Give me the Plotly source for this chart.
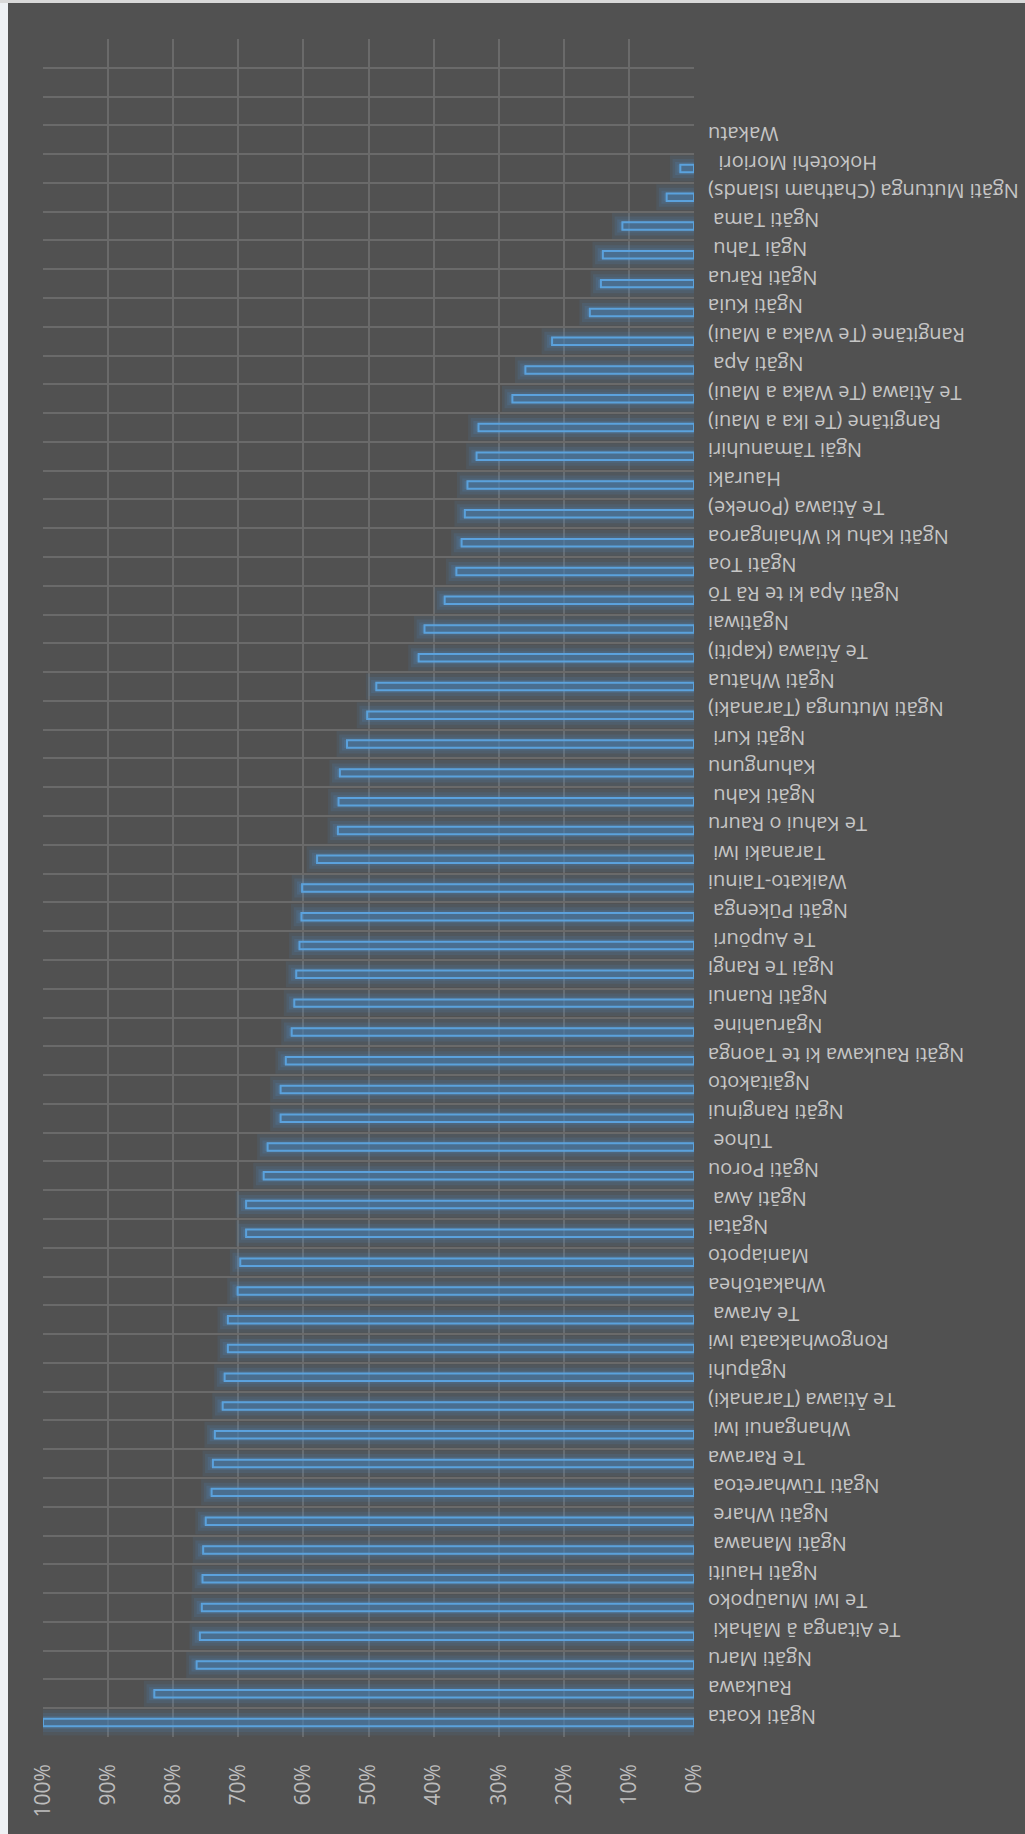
import plotly.graph_objects as go

# Iwi listed from the bottom row of the chart to the top row
tribes = [
    "Ngāti Koata", "Raukawa", "Ngāti Maru", "Te Aitanga ā Māhaki\u00a0",
    "Te Iwi Muaūpoko", "Ngāti Hauiti", "Ngāti Manawa\u00a0", "Ngāti Whare\u00a0",
    "Ngāti Tūwharetoa\u00a0", "Te Rarawa", "Whanganui Iwi\u00a0", "Te Ātiawa (Taranaki)",
    "Ngāpuhi", "Rongowhakaata Iwi", "Te Arawa\u00a0", "Whakatōhea",
    "Maniapoto", "Ngātai", "Ngāti Awa\u00a0", "Ngāti Porou",
    "Tūhoe\u00a0", "Ngāti Ranginui", "Ngāitakoto", "Ngāti Raukawa ki te Taonga",
    "Ngāruahine\u00a0", "Ngāti Ruanui", "Ngāi Te Rangi", "Te Aupōuri\u00a0",
    "Ngāti Pūkenga\u00a0", "Waikato-Tainui", "Taranaki Iwi\u00a0", "Te Kahui o Rauru",
    "Ngāti Kahu\u00a0", "Kahungunu", "Ngāti Kuri\u00a0", "Ngāti Mutunga (Taranaki)",
    "Ngāti Whātua", "Te Ātiawa (Kapiti)", "Ngātiwai", "Ngāti Apa ki te Rā Tō",
    "Ngāti Toa", "Ngāti Kahu ki Whaingaroa", "Te Ātiawa (Poneke)", "Hauraki",
    "Ngāi Tāmanuhiri", "Rangitāne (Te Ika a Maui)", "Te Ātiawa (Te Waka a Maui)", "Ngāti Apa\u00a0",
    "Rangitāne (Te Waka a Maui)", "Ngāti Kuia", "Ngāti Rārua", "Ngāi Tahu\u00a0",
    "Ngāti Tama\u00a0", "Ngāti Mutunga (Chatham Islands)", "Hokotehi Moriori\u00a0\u00a0", "Wakatu",
]

# Percentage for each iwi, same order as above
shares = [
    100.0, 82.9, 76.4, 75.9,
    75.6, 75.5, 75.4, 75.0,
    74.1, 73.9, 73.6, 72.4,
    72.1, 71.6, 71.6, 70.1,
    69.7, 68.8, 68.8, 66.1,
    65.5, 63.5, 63.5, 62.7,
    61.8, 61.4, 61.1, 60.6,
    60.3, 60.2, 57.9, 54.7,
    54.6, 54.4, 53.3, 50.2,
    48.8, 42.3, 41.4, 38.3,
    36.5, 35.7, 35.2, 34.8,
    33.4, 33.1, 27.9, 25.9,
    21.8, 16.0, 14.3, 14.0,
    11.0, 4.2, 2.1, 0.0,
]

# empty category slots kept above the last iwi
extra_rows = 3

rows = list(range(len(tribes)))
# a 0% entry gets no bar at all
bar_x = [v if v > 0 else None for v in shares]

W, H = 1025, 1834
ML, MR, MT, MB = 43, 331, 39, 97
PW, PH = W - ML - MR, H - MT - MB

BG = "#515151"
GRID = "#6a6a6a"
BAR_W = 0.26

fig = go.Figure()

# soft halo: one broken line per layer, a thick translucent stroke running
# along each bar from 0% to a little past its end (pad in % units)
for lw, pad, alpha in [(26, 1.6, 0.10), (19, 1.2, 0.13),
                       (13, 0.8, 0.16), (8, 0.45, 0.18)]:
    gx, gy = [], []
    for r, v in zip(rows, bar_x):
        if v is None:
            continue
        gx += [0, v + pad, None]
        gy += [r, r, None]
    fig.add_trace(go.Scatter(
        x=gx, y=gy, mode="lines",
        line=dict(color=f"rgba(80,150,210,{alpha})", width=lw),
        hoverinfo="skip", showlegend=False,
    ))

# the outlined bars themselves
fig.add_trace(go.Bar(
    x=bar_x, y=rows, orientation="h", width=BAR_W,
    marker=dict(color="rgba(60,80,100,0.35)",
                line=dict(color="#66aee8", width=2)),
    showlegend=False,
))

fig.update_layout(
    width=W, height=H,
    margin=dict(l=ML, r=MR, t=MT, b=MB, pad=0, autoexpand=False),
    paper_bgcolor=BG, plot_bgcolor=BG,
    barmode="overlay",
    font=dict(family="Open Sans, sans-serif", color="#c4c4c4"),
    xaxis=dict(
        range=[100, 0], tick0=0, dtick=10, ticksuffix="%",
        tickangle=-90, showgrid=True, gridcolor=GRID, gridwidth=1.5,
        zeroline=False, showline=False, ticks="", automargin=False,
        tickfont=dict(size=21, color="#bdbdbd"),
        ticklabelstandoff=22,
    ),
    yaxis=dict(
        range=[-0.5, len(tribes) - 0.5 + extra_rows],
        tickmode="array", tickvals=rows, ticktext=tribes,
        side="right", tickangle=180, ticklabelposition="inside",
        showgrid=False, zeroline=False, showline=False, ticks="",
        automargin=False,
        tickfont=dict(size=20, color="#c6c6c6"),
        ticklabelstandoff=-17,
        minor=dict(tickmode="linear", tick0=0.5, dtick=1, showgrid=True,
                   gridcolor=GRID, gridwidth=1.5, ticks=""),
    ),
    shapes=[
        # light page edge on the left and top of the chart panel
        dict(type="rect", xref="paper", yref="paper", layer="above",
             x0=-ML / PW, x1=(8 - ML) / PW, y0=-MB / PH, y1=1 + MT / PH,
             fillcolor="#eef1f4", line=dict(width=0)),
        dict(type="rect", xref="paper", yref="paper", layer="above",
             x0=-ML / PW, x1=1 + MR / PW, y0=1 + (MT - 3) / PH, y1=1 + MT / PH,
             fillcolor="#d9d9d9", line=dict(width=0)),
    ],
)

fig.write_html("out.html")
